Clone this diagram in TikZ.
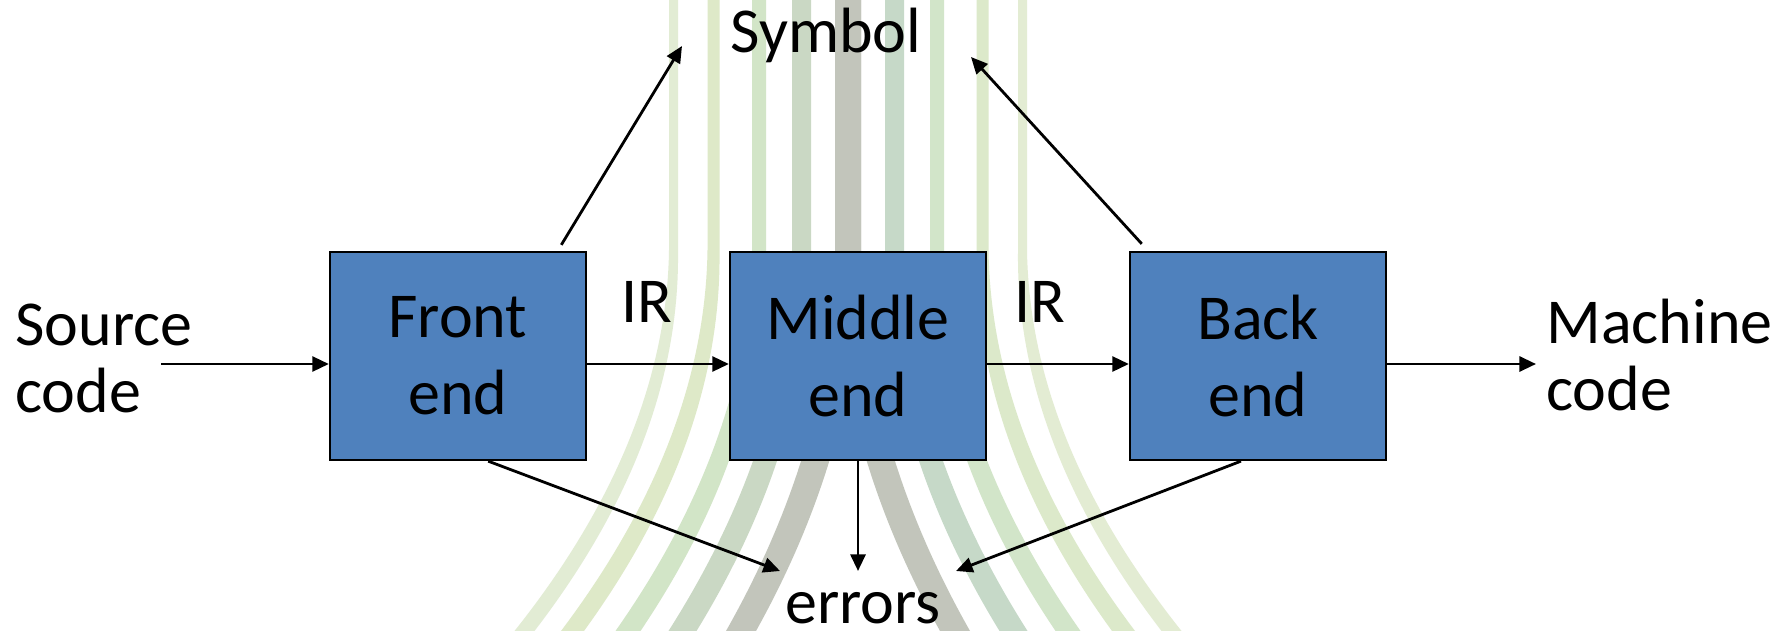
\documentclass[tikz,border=0pt]{standalone}
\usepackage{fontspec}
\setmainfont{Carlito}
\usetikzlibrary{arrows.meta,calc}

\definecolor{boxblue}{RGB}{79,129,189}
\definecolor{sgrey}{RGB}{194,197,187}
\definecolor{sL1}{RGB}{202,216,196}
\definecolor{sR1}{RGB}{198,217,200}
\definecolor{sL2}{RGB}{210,229,199}
\definecolor{sR2}{RGB}{210,229,201}
\definecolor{sL3}{RGB}{222,233,200}
\definecolor{sR3}{RGB}{220,233,202}
\definecolor{sL4}{RGB}{226,236,212}
\definecolor{sR4}{RGB}{227,236,211}

\begin{document}
\begin{tikzpicture}[x=0.5pt,y=-0.5pt,
  blockbox/.style={draw=black, fill=boxblue, line width=1.15pt,
    minimum width=128pt, minimum height=104pt, inner sep=0pt,
    align=center, font=\fontsize{32}{38.5}\selectfont},
  lbl/.style={inner sep=0pt, font=\fontsize{32}{33.5}\selectfont},
  flow/.style={line width=1.4pt, -{Triangle[length=8.3pt,width=7.5pt]}}]

\useasboundingbox (0,0) rectangle (1781,631);
\fill[white] (0,0) rectangle (1781,631);

% background: vertical stripes that flare out towards the bottom
\def\cx{848}
\foreach \off/\dx/\wt/\wb/\cl/\cr in {
    174.5/149/9/20/sL4/sR4,
    134.5/141/12/23/sL3/sR3,
    89/131/14/25/sL2/sR2,
    46.5/119/19/28/sL1/sR1,
    0/107/26/30/sgrey/sgrey}{
  \fill[fill=\cl] ({\cx-\off-\wt/2},0)
    -- plot[variable=\t,domain=0:1,samples=40]
       ({\cx-(\off+\dx*\t*\t)-(\wt+(\wb-\wt)*\t)/2},{250+381*\t})
    -- plot[variable=\t,domain=1:0,samples=40]
       ({\cx-(\off+\dx*\t*\t)+(\wt+(\wb-\wt)*\t)/2},{250+381*\t})
    -- ({\cx-\off+\wt/2},0) -- cycle;
  \fill[fill=\cr] ({\cx+\off-\wt/2},0)
    -- plot[variable=\t,domain=0:1,samples=40]
       ({\cx+(\off+\dx*\t*\t)-(\wt+(\wb-\wt)*\t)/2},{250+381*\t})
    -- plot[variable=\t,domain=1:0,samples=40]
       ({\cx+(\off+\dx*\t*\t)+(\wt+(\wb-\wt)*\t)/2},{250+381*\t})
    -- ({\cx+\off+\wt/2},0) -- cycle;
}

% compiler stages
\node[blockbox] (fe) at (458,356) {Front\\end};
\node[blockbox] (me) at (858,356) {Middle\\end};
\node[blockbox] (be) at (1258,356) {Back\\end};

% labels (multi-line nodes are anchored on their last baseline)
\node[lbl, align=left, anchor=base west] (src) at (15,412) {Source\\code};
\node[lbl, align=left, anchor=base west] (mc) at (1546,410) {Machine\\code};
\node[lbl, anchor=base] (sym) at (826,53) {Symbol};
\node[lbl, anchor=base] (err) at (863,623) {errors};
\node[lbl, anchor=base] (ir1) at (647,322) {IR};
\node[lbl, anchor=base] (ir2) at (1040,322) {IR};

% connector end points
\coordinate (srcout) at (161,364);
\coordinate (mcin) at (1536,364);
\coordinate (symL) at (682,46);
\coordinate (symR) at (971,57);
\coordinate (errL) at (780,571);
\coordinate (errM) at (858,571);
\coordinate (errR) at (956,571);

% main pipeline
\draw[flow] (srcout) -- (srcout -| fe.west);
\draw[flow] (fe.east |- srcout) -- (me.west |- srcout);
\draw[flow] (me.east |- srcout) -- (be.west |- srcout);
\draw[flow] (be.east |- srcout) -- (mcin);

% symbol table
\draw[flow] ($(fe.north west)!0.9!(fe.north east)+(0,-6)$) -- (symL);
\draw[flow] ($(be.north west)!0.05!(be.north east)+(0,-7)$) -- (symR);

% errors
\draw[flow] ($(fe.south west)!0.617!(fe.south east)$) -- (errL);
\draw[flow] (me.south) -- (errM);
\draw[flow] ($(be.south west)!0.434!(be.south east)$) -- (errR);
\end{tikzpicture}
\end{document}
